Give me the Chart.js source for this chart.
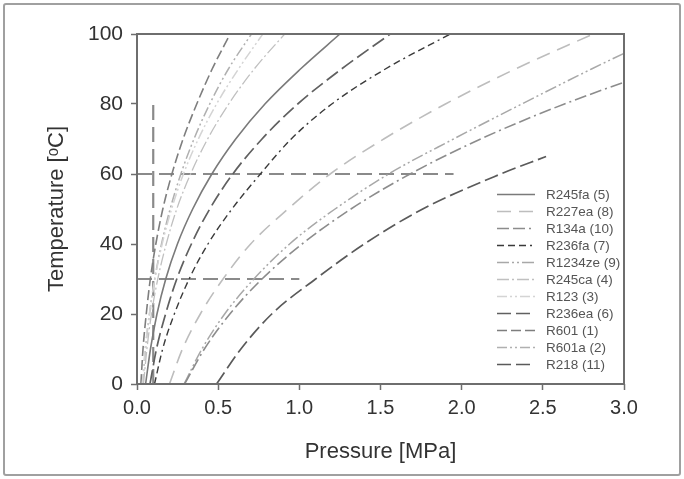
<!DOCTYPE html>
<html>
<head>
<meta charset="utf-8">
<script src="https://cdn.jsdelivr.net/npm/chart.js@4.4.0/dist/chart.umd.min.js"></script>
<style>
  html, body { margin: 0; padding: 0; background: #fff; }
  #wrap { position: relative; width: 684px; height: 479px; }
  #frame { position: absolute; left: 3px; top: 3px; width: 674px; height: 469px;
           border: 2px solid #a0a0a0; border-radius: 3px; pointer-events: none; }
  canvas { position: absolute; left: 0; top: 0; }
</style>
</head>
<body>
<div id="wrap">
  <canvas id="c" width="684" height="479"></canvas>
  <div id="frame"></div>
</div>
<script>
// ---- Data ----
const temps = [0, 10, 20, 30, 40, 50, 60, 70, 80, 90, 100];           // °C
const pR245fa  = [0.053, 0.083, 0.123, 0.177, 0.249, 0.343, 0.461, 0.608, 0.788, 1.007, 1.250];
const pR227ea  = [0.200, 0.280, 0.390, 0.530, 0.700, 0.930, 1.190, 1.520, 1.900, 2.330, 2.810];
const pR134a   = [0.293, 0.415, 0.572, 0.770, 1.017, 1.318, 1.682, 2.117, 2.633, 3.244, 3.970];
const pR236fa  = [0.108, 0.158, 0.230, 0.321, 0.437, 0.585, 0.760, 0.950, 1.200, 1.530, 1.930];
const pR1234ze = [0.290, 0.400, 0.540, 0.720, 0.940, 1.220, 1.550, 1.950, 2.370, 2.800, 3.250];
const pR245ca  = [0.040, 0.061, 0.089, 0.128, 0.180, 0.245, 0.330, 0.435, 0.565, 0.722, 0.910];
const pR123    = [0.033, 0.050, 0.076, 0.110, 0.155, 0.213, 0.286, 0.378, 0.490, 0.625, 0.775];
const pR236ea  = [0.080, 0.120, 0.176, 0.245, 0.335, 0.448, 0.590, 0.770, 0.990, 1.260, 1.560];
const pR601    = [0.024, 0.037, 0.057, 0.082, 0.116, 0.159, 0.215, 0.284, 0.368, 0.463, 0.574];
const pR601a   = [0.035, 0.052, 0.077, 0.109, 0.151, 0.204, 0.270, 0.351, 0.448, 0.563, 0.705];
const tempsR218 = [0, 10, 20, 30, 40, 50, 60, 65];
const pR218    = [0.49, 0.64, 0.83, 1.10, 1.40, 1.76, 2.24, 2.52];

// reference lines
const ref60P = [0, 1.95], ref60T = [60, 60];
const ref30P = [0, 1.0],  ref30T = [30, 30];
const refVP  = [0.1, 0.1], refVT = [0, 80];

const xTicks = [0, 0.5, 1, 1.5, 2, 2.5, 3];
const yTicks = [0, 20, 40, 60, 80, 100];

const names = ['R245fa (5)', 'R227ea (8)', 'R134a (10)', 'R236fa (7)', 'R1234ze (9)', 'R245ca (4)',
               'R123 (3)', 'R236ea (6)', 'R601 (1)', 'R601a (2)', 'R218 (11)'];

// ---- build ----
function pts(ps, ts) { return ps.map((p, i) => ({ x: p, y: ts[i] })); }

const styles = [
  { c: '#7a7a7a', w: 1.6, d: [] },                       // R245fa solid
  { c: '#bdbdbd', w: 1.6, d: [14, 8] },                  // R227ea
  { c: '#8c8c8c', w: 1.6, d: [12, 4, 12, 4, 2, 4] },     // R134a
  { c: '#3a3a3a', w: 1.4, d: [7, 4, 7, 4, 7, 4, 2, 4] }, // R236fa
  { c: '#a8a8a8', w: 1.5, d: [12, 3, 2, 3, 2, 3] },      // R1234ze
  { c: '#c0c0c0', w: 1.3, d: [12, 3, 2, 3] },            // R245ca
  { c: '#d4d4d4', w: 1.5, d: [10, 3, 2, 3, 2, 3] },      // R123
  { c: '#606060', w: 1.7, d: [14, 5] },                  // R236ea
  { c: '#7e7e7e', w: 1.6, d: [10, 4] },                  // R601
  { c: '#b0b0b0', w: 1.5, d: [10, 3, 2, 3, 2, 3] },      // R601a
  { c: '#5a5a5a', w: 1.7, d: [14, 5] }                   // R218
];
const series = [
  pts(pR245fa, temps), pts(pR227ea, temps), pts(pR134a, temps), pts(pR236fa, temps),
  pts(pR1234ze, temps), pts(pR245ca, temps), pts(pR123, temps), pts(pR236ea, temps),
  pts(pR601, temps), pts(pR601a, temps), pts(pR218, tempsR218)
];

const datasets = series.map((d, i) => ({
  label: names[i], data: d, showLine: true, pointRadius: 0,
  borderColor: styles[i].c, borderWidth: styles[i].w, borderDash: styles[i].d,
  cubicInterpolationMode: 'monotone', fill: false, inLegend: true
}));
const refStyle = { showLine: true, pointRadius: 0, borderColor: '#8a8a8a', borderWidth: 2.2,
                   borderDash: [15, 7], fill: false, inLegend: false };
datasets.push(Object.assign({ label: 'ref60', data: pts(ref60P, ref60T) }, refStyle));
datasets.push(Object.assign({ label: 'ref30', data: pts(ref30P, ref30T) }, refStyle));
datasets.push(Object.assign({ label: 'refV', data: pts(refVP, refVT) }, refStyle));

const framePlugin = {
  id: 'frame',
  afterDraw(chart) {
    const { ctx, chartArea: a } = chart;
    ctx.save();
    ctx.strokeStyle = '#6e6e6e';
    ctx.lineWidth = 2;
    ctx.setLineDash([]);
    ctx.strokeRect(a.left, a.top, a.right - a.left, a.bottom - a.top);
    ctx.restore();
  }
};

const legendPlugin = {
  id: 'customLegend',
  afterDraw(chart) {
    const ctx = chart.ctx;
    const x0 = 497, len = 38, tx = 546, y0 = 194.5, dy = 17;
    ctx.save();
    ctx.font = '13.5px "Liberation Sans", Arial, sans-serif';
    ctx.textBaseline = 'middle';
    ctx.textAlign = 'left';
    let k = 0;
    chart.data.datasets.forEach(ds => {
      if (!ds.inLegend) return;
      const y = y0 + k * dy;
      ctx.strokeStyle = ds.borderColor;
      ctx.lineWidth = ds.borderWidth;
      ctx.setLineDash(ds.borderDash || []);
      ctx.beginPath();
      ctx.moveTo(x0, y);
      ctx.lineTo(x0 + len, y);
      ctx.stroke();
      ctx.setLineDash([]);
      ctx.fillStyle = '#555';
      ctx.fillText(ds.label, tx, y + 0.5);
      k++;
    });
    ctx.restore();
  }
};

new Chart(document.getElementById('c'), {
  type: 'scatter',
  data: { datasets },
  options: {
    responsive: false,
    animation: false,
    layout: { padding: { left: 44, right: 60, top: 34, bottom: 14 } },
    plugins: { legend: { display: false }, tooltip: { enabled: false } },
    scales: {
      x: {
        type: 'linear', min: 0, max: 3,
        afterFit(s) { s.height = 81; },
        afterBuildTicks(s) { s.ticks = xTicks.map(v => ({ value: v })); },
        ticks: { callback: v => Number(v).toFixed(1), color: '#333',
                 font: { family: '"Liberation Sans", Arial, sans-serif', size: 20 }, padding: 6 },
        grid: { display: true, drawOnChartArea: false, drawTicks: true, tickLength: 6,
                tickColor: '#6e6e6e', tickWidth: 1.5 },
        border: { display: false },
        title: { display: true, text: 'Pressure [MPa]', color: '#333', padding: 0,
                 font: { family: '"Liberation Sans", Arial, sans-serif', size: 22 } }
      },
      y: {
        type: 'linear', min: 0, max: 100,
        afterFit(s) { s.width = 93; },
        afterBuildTicks(s) { s.ticks = yTicks.map(v => ({ value: v })); },
        ticks: { color: '#333', font: { family: '"Liberation Sans", Arial, sans-serif', size: 21 },
                 padding: 8 },
        grid: { display: true, drawOnChartArea: false, drawTicks: true, tickLength: 6,
                tickColor: '#6e6e6e', tickWidth: 1.5 },
        border: { display: false },
        title: { display: true, text: 'Temperature [ᵒC]', color: '#333', padding: 0,
                 font: { family: '"Liberation Sans", Arial, sans-serif', size: 22 } }
      }
    }
  },
  plugins: [framePlugin, legendPlugin]
});
</script>
</body>
</html>
